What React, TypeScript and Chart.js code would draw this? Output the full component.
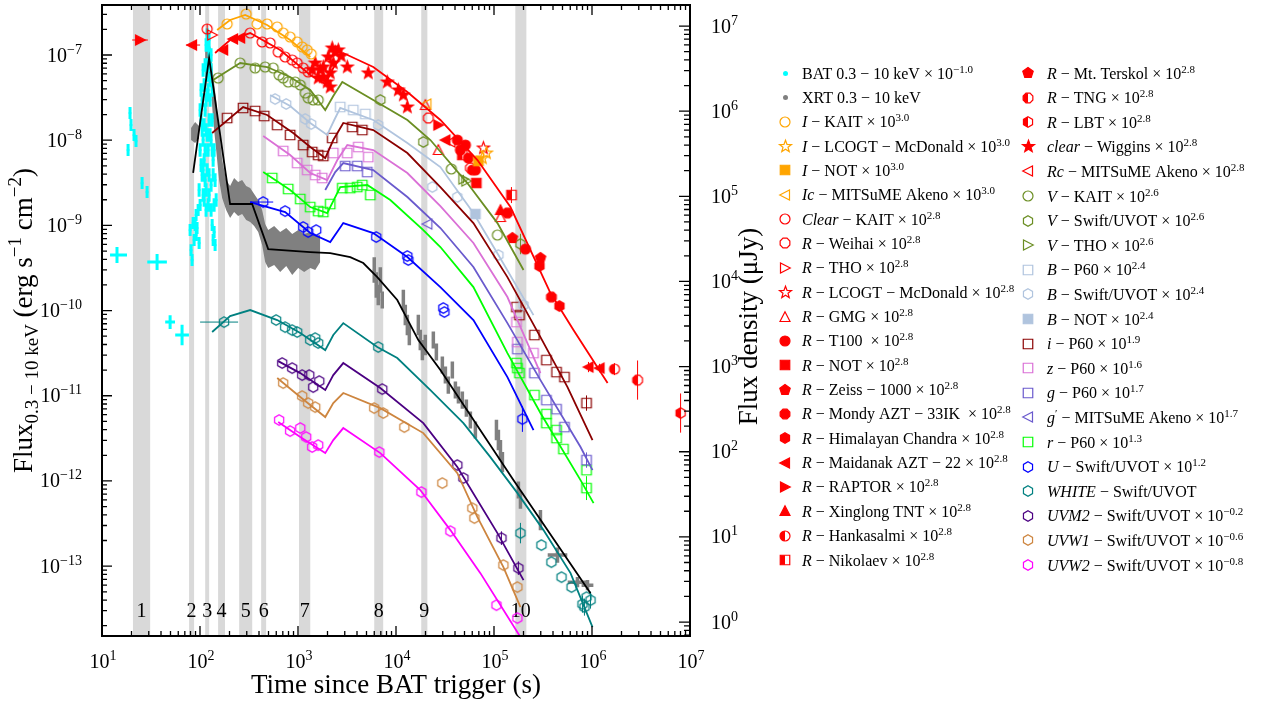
import React, { useEffect, useRef } from 'react';
import { Chart, registerables } from 'chart.js';

Chart.register(...registerables);

const W = 1261;
const H = 705;
const SERIF = '"Liberation Serif", "Times New Roman", "DejaVu Serif", serif';

// ---------- axes (log10 limits) ----------
const X_LOG_RANGE = [1, 7];
const Y_LOG_RANGE = [-13.82, -6.413];
const Y2_LOG_RANGE = [-0.164, 7.247];
const X_TICK_EXP = [1, 2, 3, 4, 5, 6, 7];
const Y_TICK_EXP = [-13, -12, -11, -10, -9, -8, -7];
const Y2_TICK_EXP = [0, 1, 2, 3, 4, 5, 6, 7];

// ---------- shaded intervals (s) ----------
const BAND_START = [20.7, 77.4, 113, 153, 251, 421, 1024, 6000, 18100, 165000];
const BAND_END = [31, 87, 124, 180, 341, 473, 1334, 7400, 20900, 214000];
const BAND_LABELS = ['1', '2', '3', '4', '5', '6', '7', '8', '9', '10'];

// ---------- data: [log10 t, log10 F, yErr(dex), xErrLo(dex), xErrHi(dex)] ----------
const BAT = [
  [1.153, -9.348, 0.094, 0.071, 0.102], [1.562, -9.43, 0.094, 0.1, 0.1],
  [1.695, -10.135, 0.08, 0.05, 0.05], [1.817, -10.287, 0.12, 0.07, 0.07],
  [1.286, -7.681, 0.07], [1.296, -7.822, 0.07], [1.327, -7.939, 0.07], [1.347, -8.01, 0.07],
  [1.266, -8.115, 0.07], [1.409, -8.503, 0.07], [1.46, -8.609, 0.07],
  [2.083, -6.859, 0.08], [2.093, -6.941, 0.08], [2.103, -7.035, 0.08], [2.083, -7.117, 0.08],
  [2.113, -7.176, 0.08], [2.073, -7.235, 0.08], [2.103, -7.294, 0.08], [2.011, -7.763, 0.08],
  [2.022, -7.528, 0.08], [2.032, -7.998, 0.08], [2.042, -7.352, 0.08], [2.052, -7.646, 0.08],
  [2.062, -7.881, 0.08], [2.073, -7.47, 0.08], [2.083, -8.115, 0.08], [2.093, -7.763, 0.08],
  [2.103, -7.528, 0.08], [2.113, -7.998, 0.08], [2.124, -7.411, 0.08], [2.134, -8.233, 0.08],
  [2.042, -8.233, 0.08], [2.052, -8.468, 0.08], [2.062, -8.585, 0.08], [2.073, -8.35, 0.08],
  [2.093, -8.409, 0.08], [2.113, -8.526, 0.08], [2.032, -8.644, 0.08], [2.022, -8.409, 0.08],
  [2.001, -8.115, 0.08], [2.124, -7.763, 0.08], [2.144, -8.115, 0.08], [2.154, -8.468, 0.08],
  [2.165, -8.702, 0.08], [2.062, -8.82, 0.08], [2.083, -8.761, 0.08],
  [1.899, -9.055, 0.07], [1.909, -9.29, 0.07], [1.93, -8.973, 0.07], [1.94, -9.172, 0.07],
  [1.96, -8.879, 0.07], [1.97, -9.031, 0.07], [1.981, -8.82, 0.07], [1.991, -9.207, 0.07],
  [2.001, -8.761, 0.07], [2.124, -8.996, 0.07], [2.134, -9.172, 0.07], [2.144, -9.078, 0.07],
  [2.154, -9.231, 0.07], [1.919, -9.407, 0.07],
  [2.052, -7.117, 0.08], [2.062, -6.883, 0.08], [2.073, -6.765, 0.08], [2.093, -6.824, 0.08],
  [2.113, -7.0, 0.08], [2.032, -7.176, 0.08], [2.011, -7.411, 0.08], [2.001, -7.646, 0.08],
  [2.022, -7.881, 0.08], [2.042, -7.822, 0.08], [2.062, -7.528, 0.08], [2.083, -7.411, 0.08],
  [2.103, -7.939, 0.08], [2.124, -8.115, 0.08], [2.134, -8.409, 0.08], [2.073, -7.939, 0.08],
  [2.052, -8.115, 0.08], [2.032, -8.35, 0.08], [2.011, -8.292, 0.08], [1.991, -8.585, 0.08],
  [2.042, -8.702, 0.08], [2.093, -8.644, 0.08], [2.113, -8.82, 0.08], [2.144, -8.761, 0.08],
  [1.96, -9.113, 0.07], [1.95, -8.996, 0.07],
];

const XRT_UPPER_A = [[1.909, -7.857], [1.95, -7.787], [1.991, -7.834]];
const XRT_LOWER_A = [[1.909, -7.998], [1.95, -8.033], [1.991, -7.974]];
const XRT_UPPER_B = [
  [2.052, -6.883], [2.083, -6.8], [2.113, -6.941], [2.134, -7.235], [2.165, -7.528], [2.195, -7.881],
  [2.226, -8.233], [2.267, -8.468], [2.307, -8.538], [2.348, -8.444], [2.389, -8.491], [2.43, -8.468],
  [2.471, -8.538], [2.512, -8.562], [2.553, -8.632], [2.594, -8.702], [2.634, -8.82], [2.665, -8.984],
  [2.696, -9.055], [2.757, -9.008], [2.818, -9.078], [2.88, -9.031], [2.941, -9.102], [3.002, -9.055],
  [3.063, -9.102], [3.125, -9.078], [3.176, -9.125], [3.227, -9.113],
];
const XRT_LOWER_B = [
  [2.052, -7.294], [2.083, -7.176], [2.113, -7.411], [2.134, -7.763], [2.165, -8.115], [2.195, -8.468],
  [2.226, -8.679], [2.267, -8.82], [2.307, -8.914], [2.348, -8.843], [2.389, -8.89], [2.43, -8.867],
  [2.471, -8.937], [2.512, -8.961], [2.553, -9.008], [2.594, -9.078], [2.634, -9.231], [2.665, -9.43],
  [2.696, -9.501], [2.757, -9.466], [2.818, -9.548], [2.88, -9.477], [2.941, -9.583], [3.002, -9.501],
  [3.063, -9.548], [3.125, -9.501], [3.176, -9.524], [3.227, -9.43],
];
const XRT_LATE = [
  [3.778, -9.524, 0.15], [3.799, -9.7, 0.15], [3.819, -9.818, 0.12], [3.84, -9.642, 0.15], [3.86, -9.876, 0.1],
  [4.075, -9.876, 0.12], [4.095, -10.053, 0.12], [4.116, -10.17, 0.12], [4.136, -10.287, 0.12],
  [4.228, -10.17, 0.12], [4.248, -10.346, 0.12], [4.269, -10.464, 0.12], [4.299, -10.405, 0.12],
  [4.381, -10.346, 0.1], [4.412, -10.487, 0.1], [4.473, -10.64, 0.1], [4.504, -10.757, 0.1],
  [4.534, -10.875, 0.1], [4.575, -10.698, 0.1], [4.606, -10.933, 0.1], [4.637, -10.992, 0.1],
  [4.677, -11.051, 0.1], [4.718, -11.145, 0.1], [4.759, -11.285, 0.1], [4.81, -11.403, 0.1],
  [5.025, -11.403, 0.12], [5.045, -11.52, 0.12], [5.066, -11.638, 0.12], [5.086, -11.779, 0.12],
  [5.249, -12.107, 0.1], [5.27, -12.225, 0.1], [5.474, -12.46, 0.12],
  [5.648, -12.87, 0.09, 0.1, 0.1], [5.852, -13.188, 0.06, 0.1, 0.1], [5.954, -13.223, 0.06, 0.06, 0.06],
];

const I_KAIT = [[2.277, -6.636], [2.471, -6.519], [2.583, -6.636], [2.685, -6.636], [2.788, -6.671], [2.849, -6.742], [2.92, -6.789], [2.992, -6.847], [3.043, -6.906], [3.094, -6.941], [3.135, -6.988]];
const I_LCOGT = [[4.882, -8.209], [4.923, -8.151]];
const I_NOT = [[4.841, -8.245]];
const IC_MITSUME = [[4.31, -7.575]];
const CLEAR_KAIT = [[2.073, -6.695, 0.06], [2.512, -6.742], [2.634, -6.847], [2.716, -6.859], [2.798, -6.965], [2.869, -7.023], [2.941, -7.059], [2.992, -7.094], [3.053, -7.153], [3.104, -7.2]];
const R_WEIHAI = [[4.33, -7.74], [4.759, -8.327]];
const R_THO = [[2.124, -6.765]];
const R_LCOGT = [[4.892, -8.092]];
const R_GMG = [[4.3, -7.587], [4.432, -8.115], [5.066, -8.902]];
const R_T100 = [[4.626, -7.998], [4.708, -8.057], [4.657, -8.115], [4.739, -8.209], [4.81, -8.35], [5.321, -9.278]];
const R_NOT = [[4.82, -8.503]];
const R_ZEISS = [[5.188, -9.149]];
const R_MONDY = [[5.137, -8.855], [5.586, -9.841]];
const R_HIMALAYAN = [[5.464, -9.477], [5.668, -9.947]];
const R_MAIDANAK = [[1.919, -6.883, 0, 0.061, 0.082], [2.236, -6.941], [2.338, -6.812], [2.41, -6.8], [4.504, -7.998], [5.964, -10.663, 0.06], [6.077, -10.675, 0.05]];
const R_RAPTOR = [[1.388, -6.824, 0.03, 0.08, 0.08], [4.432, -7.822]];
const R_XINGLONG = [[5.066, -8.82]];
const R_HANKASALMI = [[4.78, -8.35], [6.23, -10.687, 0.07]];
const R_NIKOLAEV = [[4.677, -8.174], [5.178, -8.644, 0.094]];
const R_TERSKOL = [[5.474, -9.383]];
const R_TNG = [[6.465, -10.816, 0.23]];
const R_LBT = [[6.904, -11.203, 0.23]];
const CLEAR_WIGGINS = [
  [3.176, -7.094], [3.227, -7.176], [3.258, -7.258], [3.298, -7.317], [3.206, -7.27], [3.329, -7.211],
  [3.36, -7.094], [3.38, -6.965], [3.411, -6.941], [3.349, -6.918], [3.258, -7.141], [3.145, -7.176],
  [3.329, -7.376], [3.309, -7.023], [3.441, -7.012], [3.503, -7.141], [3.717, -7.211], [3.911, -7.317],
  [4.024, -7.411], [4.075, -7.47], [4.116, -7.611],
];
const RC_MITSUME = [[4.555, -8.021]];
const V_KAIT = [[2.185, -7.27], [2.41, -7.094], [2.563, -7.153, 0.05], [2.665, -7.141], [2.747, -7.153], [2.808, -7.235], [2.849, -7.27], [2.9, -7.317], [2.971, -7.317], [3.023, -7.352], [3.074, -7.446], [3.104, -7.505], [3.155, -7.528], [3.206, -7.528], [4.565, -8.338], [5.035, -9.113]];
const V_SWIFT = [[3.84, -7.528], [4.279, -8.021], [5.27, -9.219, 0.12]];
const V_THO = [[4.688, -8.456, 0.05], [4.718, -8.479]];
const B_P60 = [[3.431, -7.611], [3.564, -7.646], [3.687, -7.693]];
const B_SWIFT = [[2.767, -7.517], [2.88, -7.575], [3.074, -7.751], [3.135, -7.81], [3.819, -7.822], [4.371, -8.55], [4.626, -8.667], [5.045, -9.348], [5.301, -9.935]];
const B_NOT = [[4.81, -8.867]];
const I_P60 = [[2.277, -7.74], [2.44, -7.622], [2.563, -7.658], [2.655, -7.716], [2.788, -7.822], [2.92, -7.939], [3.053, -8.057], [3.145, -8.139], [3.206, -8.174], [3.258, -8.186], [3.349, -7.974], [3.554, -7.845], [3.656, -7.881], [5.229, -9.959], [5.26, -10.053], [5.413, -10.287], [5.535, -10.581], [5.638, -10.722], [5.719, -10.781], [5.944, -11.086, 0.09]];
const Z_P60 = [[2.849, -8.127], [2.992, -8.268], [3.094, -8.35], [3.176, -8.409], [3.247, -8.444], [3.36, -8.151], [3.503, -8.151], [3.615, -8.08], [3.717, -8.198], [5.229, -10.135], [5.239, -10.37], [5.403, -10.499]];
const G_P60 = [[3.482, -8.303], [3.605, -8.303], [3.707, -8.374], [5.239, -10.452], [5.413, -10.734], [5.535, -11.051], [5.638, -11.157], [5.719, -11.368], [5.944, -11.755, 0.09]];
const GP_MITSUME = [[4.32, -8.984]];
const R_P60 = [[2.737, -8.444], [2.9, -8.573], [3.023, -8.691], [3.125, -8.785], [3.206, -8.832], [3.258, -8.843], [3.329, -8.749], [3.452, -8.562], [3.533, -8.562], [3.605, -8.55], [3.656, -8.526], [3.738, -8.644], [5.229, -10.616], [5.239, -10.675], [5.26, -10.734], [5.413, -10.992], [5.535, -11.215], [5.535, -11.321], [5.638, -11.403], [5.638, -11.497], [5.709, -11.626], [5.944, -11.873], [5.944, -12.084, 0.14]];
const U_SWIFT = [[2.645, -8.726, 0, 0.133, 0.102], [2.869, -8.832], [3.053, -9.019], [3.104, -9.078], [3.186, -9.055], [3.799, -9.137], [4.116, -9.36], [4.126, -9.407], [4.483, -9.97], [4.494, -10.017], [5.29, -11.274, 0.15]];
const WHITE_SWIFT = [[2.246, -10.135, 0, 0.245, 0.143], [2.777, -10.111], [2.869, -10.194], [2.941, -10.229], [2.992, -10.252], [3.125, -10.346], [3.176, -10.323], [3.206, -10.381], [3.819, -10.428], [5.27, -12.612, 0.12], [5.484, -12.753], [5.586, -12.953], [5.689, -13.129], [5.791, -13.246], [5.903, -13.446, 0.1], [5.985, -13.399, 0.1], [5.944, -13.364], [5.923, -13.481, 0.1]];
const UVM2_SWIFT = [[2.839, -10.616], [2.941, -10.675], [3.043, -10.757], [3.115, -10.757], [3.155, -10.898], [3.217, -10.828], [3.86, -10.922], [4.626, -11.814], [4.688, -11.966], [5.076, -12.671, 0.08], [5.249, -13.023, 0.08]];
const UVW1_SWIFT = [[2.849, -10.851], [3.043, -11.004], [3.104, -11.086], [3.176, -11.133], [3.778, -11.145], [3.87, -11.203], [4.085, -11.368], [4.473, -12.025], [4.779, -12.319], [4.8, -12.436], [5.096, -12.988], [5.239, -13.246]];
const UVW2_SWIFT = [[2.808, -11.285], [2.92, -11.415], [3.023, -11.379], [3.084, -11.485], [3.145, -11.602], [3.206, -11.579], [3.83, -11.661], [4.259, -12.131], [4.555, -12.589], [5.025, -13.458], [5.239, -13.61]];

// ---------- model curves ----------
const MODEL_I = [[2.175, -6.706], [2.307, -6.589], [2.461, -6.53], [2.685, -6.648], [2.92, -6.824], [3.125, -7.023]];
const MODEL_R = [[2.154, -6.977], [2.307, -6.824], [2.512, -6.742], [2.818, -6.941], [3.125, -7.235], [3.278, -7.34], [3.36, -7.153], [3.462, -6.977], [3.768, -7.141], [4.116, -7.434], [4.453, -7.763], [4.831, -8.233], [5.168, -8.785], [5.576, -9.794], [5.811, -10.229], [6.159, -10.851]];
const MODEL_V = [[2.134, -7.294], [2.41, -7.094], [2.685, -7.141], [2.92, -7.258], [3.125, -7.411], [3.278, -7.646], [3.36, -7.481], [3.452, -7.317], [3.768, -7.528], [4.116, -7.763], [4.351, -7.998], [4.728, -8.503], [5.035, -8.973], [5.301, -9.524]];
const MODEL_B = [[2.716, -7.47], [2.92, -7.599], [3.125, -7.798], [3.298, -7.939], [3.37, -7.763], [3.431, -7.622], [3.768, -7.763], [4.116, -8.033], [4.453, -8.315], [4.79, -8.855], [5.045, -9.348], [5.403, -10.053]];
const MODEL_i = [[2.124, -7.916], [2.44, -7.611], [2.685, -7.704], [2.951, -7.916], [3.125, -8.08], [3.278, -8.209], [3.36, -7.998], [3.462, -7.798], [3.768, -7.881], [4.116, -8.151], [4.453, -8.55], [4.79, -8.973], [5.137, -9.607], [5.474, -10.311], [5.75, -10.898], [6.005, -11.52]];
const MODEL_z = [[2.645, -7.951], [2.92, -8.174], [3.125, -8.385], [3.298, -8.468], [3.401, -8.233], [3.503, -8.057], [3.768, -8.115], [4.116, -8.385], [4.453, -8.773], [4.79, -9.207], [5.137, -9.841], [5.474, -10.734]];
const MODEL_g = [[3.278, -8.585], [3.38, -8.374], [3.462, -8.268], [3.768, -8.35], [4.116, -8.667], [4.453, -9.031], [4.79, -9.489], [5.137, -10.147], [5.474, -10.816], [5.883, -11.602], [6.005, -11.873]];
const MODEL_r = [[2.645, -8.374], [2.92, -8.585], [3.125, -8.785], [3.298, -8.855], [3.431, -8.55], [3.707, -8.526], [3.942, -8.702], [4.279, -9.055], [4.453, -9.254], [4.79, -9.724], [5.137, -10.499], [5.474, -11.203], [5.883, -11.99], [6.016, -12.26]];
const MODEL_U = [[2.512, -8.726], [2.869, -8.843], [3.125, -9.09], [3.329, -9.196], [3.462, -8.973], [3.768, -9.09], [4.116, -9.372], [4.453, -9.724], [4.79, -10.111], [5.137, -10.781], [5.403, -11.403]];
const MODEL_XRT = [[1.93, -8.385], [2.093, -7.035], [2.307, -8.749], [2.532, -8.749], [2.696, -9.278], [3.125, -9.313], [3.329, -9.325], [3.533, -9.372], [3.666, -9.442], [3.809, -9.607], [4.013, -9.876], [4.228, -10.346], [4.453, -10.698], [5.198, -11.99], [5.985, -13.317]];
const MODEL_WHITE = [[2.124, -10.252], [2.307, -10.064], [2.512, -9.994], [2.788, -10.111], [3.023, -10.264], [3.278, -10.464], [3.36, -10.287], [3.462, -10.147], [3.809, -10.428], [4.013, -10.557], [4.351, -10.933], [4.688, -11.321], [4.963, -11.72], [5.239, -12.143], [5.505, -12.577], [5.781, -13.082], [6.005, -13.716]];
const MODEL_UVM2 = [[2.798, -10.593], [3.023, -10.734], [3.278, -10.933], [3.36, -10.757], [3.462, -10.616], [3.84, -10.91], [4.279, -11.321], [4.626, -11.837], [5.035, -12.612], [5.301, -13.164]];
const MODEL_UVW1 = [[2.788, -10.792], [3.023, -11.015], [3.278, -11.25], [3.36, -11.086], [3.462, -10.968], [3.84, -11.145], [4.279, -11.438], [4.626, -11.908], [4.831, -12.424], [5.096, -13.011], [5.27, -13.481]];
const MODEL_UVW2 = [[2.798, -11.309], [3.023, -11.485], [3.278, -11.673], [3.36, -11.52], [3.462, -11.379], [3.84, -11.673], [4.248, -12.107], [4.555, -12.577], [4.861, -13.082], [5.27, -13.833]];

// ---------- legend labels ----------
const LEGEND_COL1 = [
  'BAT 0.3 − 10 keV × 10^{−1.0}', 'XRT 0.3 − 10 keV', '*I* − KAIT × 10^{3.0}', '*I* − LCOGT − McDonald × 10^{3.0}',
  '*I* − NOT × 10^{3.0}', '*Ic* − MITSuME Akeno × 10^{3.0}', '*Clear* − KAIT × 10^{2.8}', '*R* − Weihai × 10^{2.8}',
  '*R* − THO × 10^{2.8}', '*R* − LCOGT − McDonald × 10^{2.8}', '*R* − GMG × 10^{2.8}', '*R* − T100  × 10^{2.8}',
  '*R* − NOT × 10^{2.8}', '*R* − Zeiss − 1000 × 10^{2.8}', '*R* − Mondy AZT − 33IK  × 10^{2.8}',
  '*R* − Himalayan Chandra × 10^{2.8}', '*R* − Maidanak AZT − 22 × 10^{2.8}', '*R* − RAPTOR × 10^{2.8}',
  '*R* − Xinglong TNT × 10^{2.8}', '*R* − Hankasalmi × 10^{2.8}', '*R* − Nikolaev × 10^{2.8}',
];
const LEGEND_COL2 = [
  '*R* − Mt. Terskol × 10^{2.8}', '*R* − TNG × 10^{2.8}', '*R* − LBT × 10^{2.8}', '*clear* − Wiggins × 10^{2.8}',
  '*Rc* − MITSuME Akeno × 10^{2.8}', '*V* − KAIT × 10^{2.6}', '*V* − Swift/UVOT × 10^{2.6}', '*V* − THO × 10^{2.6}',
  '*B* − P60 × 10^{2.4}', '*B* − Swift/UVOT × 10^{2.4}', '*B* − NOT × 10^{2.4}', '*i* − P60 × 10^{1.9}',
  '*z* − P60 × 10^{1.6}', '*g* − P60 × 10^{1.7}', '*g*^{′} − MITSuME Akeno × 10^{1.7}', '*r* − P60 × 10^{1.3}',
  '*U* − Swift/UVOT × 10^{1.2}', '*WHITE* − Swift/UVOT', '*UVM2* − Swift/UVOT × 10^{−0.2}',
  '*UVW1* − Swift/UVOT × 10^{−0.6}', '*UVW2* − Swift/UVOT × 10^{−0.8}',
];

const C = {
  cyan: '#00FFFF', gray: '#808080', orange: '#FFA500', red: '#FF0000', olive: '#6B8E23', lsb: '#B0C4DE',
  darkred: '#8B0000', orchid: '#DA70D6', slate: '#6A5ACD', lime: '#00FF00', blue: '#0000FF', teal: '#008080',
  indigo: '#4B0082', peru: '#CD853F', magenta: '#FF00FF',
};

// marker series: [data, color, shape, fill, legend column, legend row]
const MARKER_SERIES: any[] = [
  [BAT, C.cyan, 'dot', 'full', 0, 0], [XRT_LATE, C.gray, 'dot', 'full', 0, 1],
  [I_KAIT, C.orange, 'circle', 'none', 0, 2], [I_LCOGT, C.orange, 'star', 'none', 0, 3],
  [I_NOT, C.orange, 'square', 'full', 0, 4], [IC_MITSUME, C.orange, 'triLeft', 'none', 0, 5],
  [CLEAR_KAIT, C.red, 'circle', 'none', 0, 6], [R_WEIHAI, C.red, 'octagon', 'none', 0, 7],
  [R_THO, C.red, 'triRight', 'none', 0, 8], [R_LCOGT, C.red, 'star', 'none', 0, 9],
  [R_GMG, C.red, 'triUp', 'none', 0, 10], [R_T100, C.red, 'circle', 'full', 0, 11],
  [R_NOT, C.red, 'square', 'full', 0, 12], [R_ZEISS, C.red, 'pentagon', 'full', 0, 13],
  [R_MONDY, C.red, 'octagon', 'full', 0, 14], [R_HIMALAYAN, C.red, 'hexagon', 'full', 0, 15],
  [R_MAIDANAK, C.red, 'triLeft', 'full', 0, 16], [R_RAPTOR, C.red, 'triRight', 'full', 0, 17],
  [R_XINGLONG, C.red, 'triUp', 'full', 0, 18], [R_HANKASALMI, C.red, 'circle', 'left', 0, 19],
  [R_NIKOLAEV, C.red, 'square', 'left', 0, 20],
  [R_TERSKOL, C.red, 'pentagon', 'full', 1, 0], [R_TNG, C.red, 'octagon', 'left', 1, 1],
  [R_LBT, C.red, 'hexagon', 'left', 1, 2], [CLEAR_WIGGINS, C.red, 'star', 'full', 1, 3],
  [RC_MITSUME, C.red, 'triLeft', 'none', 1, 4], [V_KAIT, C.olive, 'circle', 'none', 1, 5],
  [V_SWIFT, C.olive, 'hexagon', 'none', 1, 6], [V_THO, C.olive, 'triRight', 'none', 1, 7],
  [B_P60, C.lsb, 'square', 'none', 1, 8], [B_SWIFT, C.lsb, 'hexagon', 'none', 1, 9],
  [B_NOT, C.lsb, 'square', 'full', 1, 10], [I_P60, C.darkred, 'square', 'none', 1, 11],
  [Z_P60, C.orchid, 'square', 'none', 1, 12], [G_P60, C.slate, 'square', 'none', 1, 13],
  [GP_MITSUME, C.slate, 'triLeft', 'none', 1, 14], [R_P60, C.lime, 'square', 'none', 1, 15],
  [U_SWIFT, C.blue, 'hexagon', 'none', 1, 16], [WHITE_SWIFT, C.teal, 'hexagon', 'none', 1, 17],
  [UVM2_SWIFT, C.indigo, 'hexagon', 'none', 1, 18], [UVW1_SWIFT, C.peru, 'hexagon', 'none', 1, 19],
  [UVW2_SWIFT, C.magenta, 'hexagon', 'none', 1, 20],
];

const MODEL_SERIES: any[] = [
  [MODEL_XRT, '#000000'], [MODEL_I, C.orange], [MODEL_R, C.red], [MODEL_V, C.olive], [MODEL_B, C.lsb],
  [MODEL_i, C.darkred], [MODEL_z, C.orchid], [MODEL_g, C.slate], [MODEL_r, C.lime], [MODEL_U, C.blue],
  [MODEL_WHITE, C.teal], [MODEL_UVM2, C.indigo], [MODEL_UVW1, C.peru], [MODEL_UVW2, C.magenta],
];

const toPts = (arr: number[][]) =>
  arr.map((p) => ({ x: 10 ** p[0], y: 10 ** p[1], ey: p[2] || 0, exl: p[3] || 0, exh: p[4] ?? p[3] ?? 0 }));

function makeMarker(shape: string, color: string, fill: string) {
  const size = shape === 'dot' ? 5 : shape === 'star' ? 11 : 10;
  const lw = 1.2;
  const S = Math.ceil(size + 8);
  const c = document.createElement('canvas');
  c.width = S;
  c.height = S;
  const g = c.getContext('2d') as CanvasRenderingContext2D;
  g.translate(S / 2, S / 2);
  const r = size / 2;
  const poly = (pts: number[][]) => {
    g.moveTo(pts[0][0], pts[0][1]);
    for (let i = 1; i < pts.length; i++) g.lineTo(pts[i][0], pts[i][1]);
    g.closePath();
  };
  const regular = (n: number, rad: number, rot: number) => {
    const pts: number[][] = [];
    for (let i = 0; i < n; i++) {
      const a = rot + (i * 2 * Math.PI) / n;
      pts.push([rad * Math.cos(a), rad * Math.sin(a)]);
    }
    poly(pts);
  };
  const path = () => {
    g.beginPath();
    switch (shape) {
      case 'circle':
      case 'dot':
        g.arc(0, 0, r, 0, 2 * Math.PI);
        break;
      case 'square':
        g.rect(-r * 0.95, -r * 0.95, 1.9 * r, 1.9 * r);
        break;
      case 'hexagon':
        regular(6, r * 1.05, -Math.PI / 2);
        break;
      case 'octagon':
        regular(8, r * 1.05, Math.PI / 8);
        break;
      case 'pentagon':
        regular(5, r * 1.1, -Math.PI / 2);
        break;
      case 'star': {
        const pts: number[][] = [];
        for (let i = 0; i < 10; i++) {
          const a = -Math.PI / 2 + (i * Math.PI) / 5;
          const rr = i % 2 === 0 ? r * 1.15 : r * 0.48;
          pts.push([rr * Math.cos(a), rr * Math.sin(a)]);
        }
        poly(pts);
        break;
      }
      case 'triUp':
        poly([[0, -r * 1.05], [-r, r * 0.9], [r, r * 0.9]]);
        break;
      case 'triLeft':
        poly([[-r * 1.05, 0], [r * 0.9, -r], [r * 0.9, r]]);
        break;
      case 'triRight':
        poly([[r * 1.05, 0], [-r * 0.9, -r], [-r * 0.9, r]]);
        break;
    }
  };
  if (fill === 'full') {
    path();
    g.fillStyle = color;
    g.fill();
  } else if (fill === 'left') {
    g.save();
    g.beginPath();
    g.rect(-S, -S, S, 2 * S);
    g.clip();
    path();
    g.fillStyle = color;
    g.fill();
    g.restore();
  }
  if (shape !== 'dot') {
    path();
    g.strokeStyle = color;
    g.lineWidth = lw;
    g.stroke();
  }
  return c;
}

type Part = { t: string; it: boolean; mode: string };
function parseRich(s: string): Part[] {
  const parts: Part[] = [];
  let it = false;
  let buf = '';
  let i = 0;
  const flush = () => {
    if (buf) parts.push({ t: buf, it, mode: 'n' });
    buf = '';
  };
  while (i < s.length) {
    const ch = s[i];
    if (ch === '*') {
      flush();
      it = !it;
      i++;
      continue;
    }
    if ((ch === '^' || ch === '_') && s[i + 1] === '{') {
      flush();
      const j = s.indexOf('}', i);
      parts.push({ t: s.slice(i + 2, j), it: false, mode: ch === '^' ? 'sup' : 'sub' });
      i = j + 1;
      continue;
    }
    buf += ch;
    i++;
  }
  flush();
  return parts;
}

function richWidth(ctx: CanvasRenderingContext2D, s: string, size: number, small: number) {
  let w = 0;
  for (const p of parseRich(s)) {
    ctx.font = `${p.it ? 'italic ' : ''}${p.mode === 'n' ? size : small}px ${SERIF}`;
    w += ctx.measureText(p.t).width;
  }
  return w;
}

function drawRich(ctx: CanvasRenderingContext2D, x: number, y: number, s: string, size: number, small: number, rise: number, drop: number) {
  let cx = x;
  ctx.textAlign = 'left';
  ctx.textBaseline = 'alphabetic';
  for (const p of parseRich(s)) {
    ctx.font = `${p.it ? 'italic ' : ''}${p.mode === 'n' ? size : small}px ${SERIF}`;
    const yy = p.mode === 'sup' ? y - rise : p.mode === 'sub' ? y + drop : y;
    ctx.fillText(p.t, cx, yy);
    cx += ctx.measureText(p.t).width;
  }
  return cx - x;
}

const decorPlugin = {
  id: 'decor',
  beforeDatasetsDraw(chart: any) {
    const { ctx, chartArea: a, scales } = chart;
    const x = scales.x;
    ctx.save();
    ctx.fillStyle = '#d9d9d9';
    BAND_START.forEach((s, i) => {
      const x0 = x.getPixelForValue(s);
      const x1 = x.getPixelForValue(BAND_END[i]);
      ctx.fillRect(x0, a.top, x1 - x0, a.bottom - a.top);
    });
    ctx.fillStyle = '#000';
    ctx.font = `20px ${SERIF}`;
    ctx.textAlign = 'center';
    ctx.textBaseline = 'alphabetic';
    BAND_LABELS.forEach((l, i) => {
      const xm = x.getPixelForValue(Math.sqrt(BAND_START[i] * BAND_END[i]));
      ctx.fillText(l, xm, a.bottom - 19);
    });
    ctx.restore();
  },
  beforeDatasetDraw(chart: any, args: any) {
    const ds: any = chart.data.datasets[args.index];
    if (!ds.errorBars) return;
    const { ctx, chartArea: a } = chart;
    const x = chart.scales.x;
    const y = chart.scales.y;
    ctx.save();
    ctx.beginPath();
    ctx.rect(a.left, a.top, a.right - a.left, a.bottom - a.top);
    ctx.clip();
    ctx.strokeStyle = ds.errColor;
    ctx.lineWidth = ds.errWidth;
    ctx.beginPath();
    for (const d of ds.data) {
      const px = x.getPixelForValue(d.x);
      const py = y.getPixelForValue(d.y);
      if (d.ey) {
        ctx.moveTo(px, y.getPixelForValue(d.y * 10 ** d.ey));
        ctx.lineTo(px, y.getPixelForValue(d.y / 10 ** d.ey));
      }
      if (d.exl || d.exh) {
        ctx.moveTo(x.getPixelForValue(d.x / 10 ** d.exl), py);
        ctx.lineTo(x.getPixelForValue(d.x * 10 ** d.exh), py);
      }
    }
    ctx.stroke();
    ctx.restore();
  },
  afterDraw(chart: any) {
    const { ctx, chartArea: a, scales } = chart;
    const x = scales.x;
    const y = scales.y;
    const y2 = scales.y2;
    ctx.save();
    ctx.strokeStyle = '#000';
    ctx.lineWidth = 1.3;
    ctx.beginPath();
    for (let e = 0; e <= 7; e++) {
      for (let m = 1; m <= 9; m++) {
        const v = m * 10 ** e;
        if (v < x.min * 0.999 || v > x.max * 1.001) continue;
        const px = x.getPixelForValue(v);
        const L = m === 1 ? 10 : 5;
        ctx.moveTo(px, a.bottom);
        ctx.lineTo(px, a.bottom - L);
        ctx.moveTo(px, a.top);
        ctx.lineTo(px, a.top + L);
      }
    }
    for (let e = -15; e <= -5; e++) {
      for (let m = 1; m <= 9; m++) {
        const v = m * 10 ** e;
        if (v < y.min || v > y.max) continue;
        const py = y.getPixelForValue(v);
        const L = m === 1 ? 10 : 5;
        ctx.moveTo(a.left, py);
        ctx.lineTo(a.left + L, py);
      }
    }
    for (let e = -2; e <= 8; e++) {
      for (let m = 1; m <= 9; m++) {
        const v = m * 10 ** e;
        if (v < y2.min || v > y2.max) continue;
        const py = y2.getPixelForValue(v);
        const L = m === 1 ? 11 : 6;
        ctx.moveTo(a.right, py);
        ctx.lineTo(a.right - L, py);
      }
    }
    ctx.stroke();
    ctx.lineWidth = 2;
    ctx.strokeRect(a.left, a.top, a.right - a.left, a.bottom - a.top);

    ctx.fillStyle = '#000';
    X_TICK_EXP.forEach((e) => {
      const s = `10^{${e}}`;
      const w = richWidth(ctx, s, 20, 14);
      drawRich(ctx, x.getPixelForValue(10 ** e) - w / 2 + 1, 668, s, 20, 14, 8, 0);
    });
    Y_TICK_EXP.forEach((e) => {
      const s = `10^{−${Math.abs(e)}}`;
      const w = richWidth(ctx, s, 20, 14);
      drawRich(ctx, 82 - w, y.getPixelForValue(10 ** e) + 6.5, s, 20, 14, 8, 0);
    });
    Y2_TICK_EXP.forEach((e) => {
      drawRich(ctx, 711, y2.getPixelForValue(10 ** e) + 6.5, `10^{${e}}`, 20, 14, 8, 0);
    });

    const xt = 'Time since BAT trigger (s)';
    const xw = richWidth(ctx, xt, 27, 19);
    drawRich(ctx, (a.left + a.right) / 2 - xw / 2, 693, xt, 27, 19, 11, 6);

    const yt = 'Flux_{0.3 − 10 keV} (erg s^{−1} cm^{−2})';
    const yw = richWidth(ctx, yt, 27, 19);
    ctx.save();
    ctx.translate(32, (a.top + a.bottom) / 2);
    ctx.rotate(-Math.PI / 2);
    drawRich(ctx, -yw / 2, 0, yt, 27, 19, 11, 6);
    ctx.restore();

    const y2t = 'Flux density (μJy)';
    const y2w = richWidth(ctx, y2t, 27, 19);
    ctx.save();
    ctx.translate(757, (a.top + a.bottom) / 2 + 6);
    ctx.rotate(-Math.PI / 2);
    drawRich(ctx, -y2w / 2, 0, y2t, 27, 19, 11, 6);
    ctx.restore();

    const markers = chart.$legendMarkers || [];
    markers.forEach((mk: any) => {
      const col = mk.col;
      const row = mk.row;
      const mx = col === 0 ? 785 : 1028;
      const tx = col === 0 ? 802 : 1047;
      const my = col === 0 ? 73 + 24.35 * row : 73 + 24.6 * row;
      ctx.drawImage(mk.img, Math.round(mx - mk.img.width / 2), Math.round(my - mk.img.height / 2));
      const label = col === 0 ? LEGEND_COL1[row] : LEGEND_COL2[row];
      ctx.fillStyle = '#000';
      drawRich(ctx, tx, my + 5.5, label, 16, 11, 6, 0);
    });
    ctx.restore();
  },
};

export default function App() {
  const ref = useRef<HTMLCanvasElement>(null);
  useEffect(() => {
    const canvas = ref.current as HTMLCanvasElement;
    const lineSets = MODEL_SERIES.map(([arr, color]) => ({
      data: toPts(arr),
      showLine: true,
      pointRadius: 0,
      borderColor: color,
      backgroundColor: color,
      borderWidth: 1.8,
      fill: false,
      tension: 0,
    }));
    const legendMarkers: any[] = [];
    const optical: any[] = [];
    let batSet: any = null;
    let xrtSet: any = null;
    MARKER_SERIES.forEach(([arr, color, shape, fill, col, row]) => {
      const img = makeMarker(shape, color, fill);
      legendMarkers.push({ img, col, row });
      const isBat = arr === BAT;
      const isXrt = arr === XRT_LATE;
      const ds: any = {
        data: toPts(arr),
        showLine: false,
        pointStyle: isBat || isXrt ? 'circle' : img,
        pointRadius: isBat || isXrt ? 1.5 : 5,
        borderWidth: 0,
        borderColor: color,
        backgroundColor: color,
        errorBars: true,
        errColor: color,
        errWidth: isBat ? 3 : isXrt ? 3.5 : 1,
      };
      if (isBat) batSet = ds;
      else if (isXrt) xrtSet = ds;
      else optical.push(ds);
    });
    const band = (arr: number[][], fill: any) => ({
      data: toPts(arr),
      showLine: true,
      pointRadius: 0,
      borderWidth: 0,
      borderColor: 'rgba(0,0,0,0)',
      backgroundColor: C.gray,
      fill,
      tension: 0,
    });
    const datasets = [
      ...lineSets,
      ...optical,
      batSet,
      xrtSet,
      band(XRT_UPPER_B, false),
      band(XRT_LOWER_B, '-1'),
      band(XRT_UPPER_A, false),
      band(XRT_LOWER_A, '-1'),
    ];
    const chart: any = new Chart(canvas, {
      type: 'scatter',
      data: { datasets },
      options: {
        responsive: false,
        animation: false,
        devicePixelRatio: 1,
        events: [],
        layout: { padding: { left: 102, top: 5, right: W - 690, bottom: H - 636 } },
        plugins: { legend: { display: false }, tooltip: { enabled: false }, title: { display: false } },
        scales: {
          x: { type: 'logarithmic', min: 10 ** X_LOG_RANGE[0], max: 10 ** X_LOG_RANGE[1], display: false },
          y: { type: 'logarithmic', min: 10 ** Y_LOG_RANGE[0], max: 10 ** Y_LOG_RANGE[1], display: false },
          y2: { type: 'logarithmic', position: 'right', min: 10 ** Y2_LOG_RANGE[0], max: 10 ** Y2_LOG_RANGE[1], display: false },
        },
      } as any,
      plugins: [decorPlugin as any],
    } as any);
    chart.$legendMarkers = legendMarkers;
    chart.draw();
    return () => chart.destroy();
  }, []);
  return (
    <div style={{ position: 'absolute', left: 0, top: 0, width: W, height: H, background: '#fff' }}>
      <canvas ref={ref} width={W} height={H} style={{ display: 'block', width: W, height: H }} />
    </div>
  );
}
